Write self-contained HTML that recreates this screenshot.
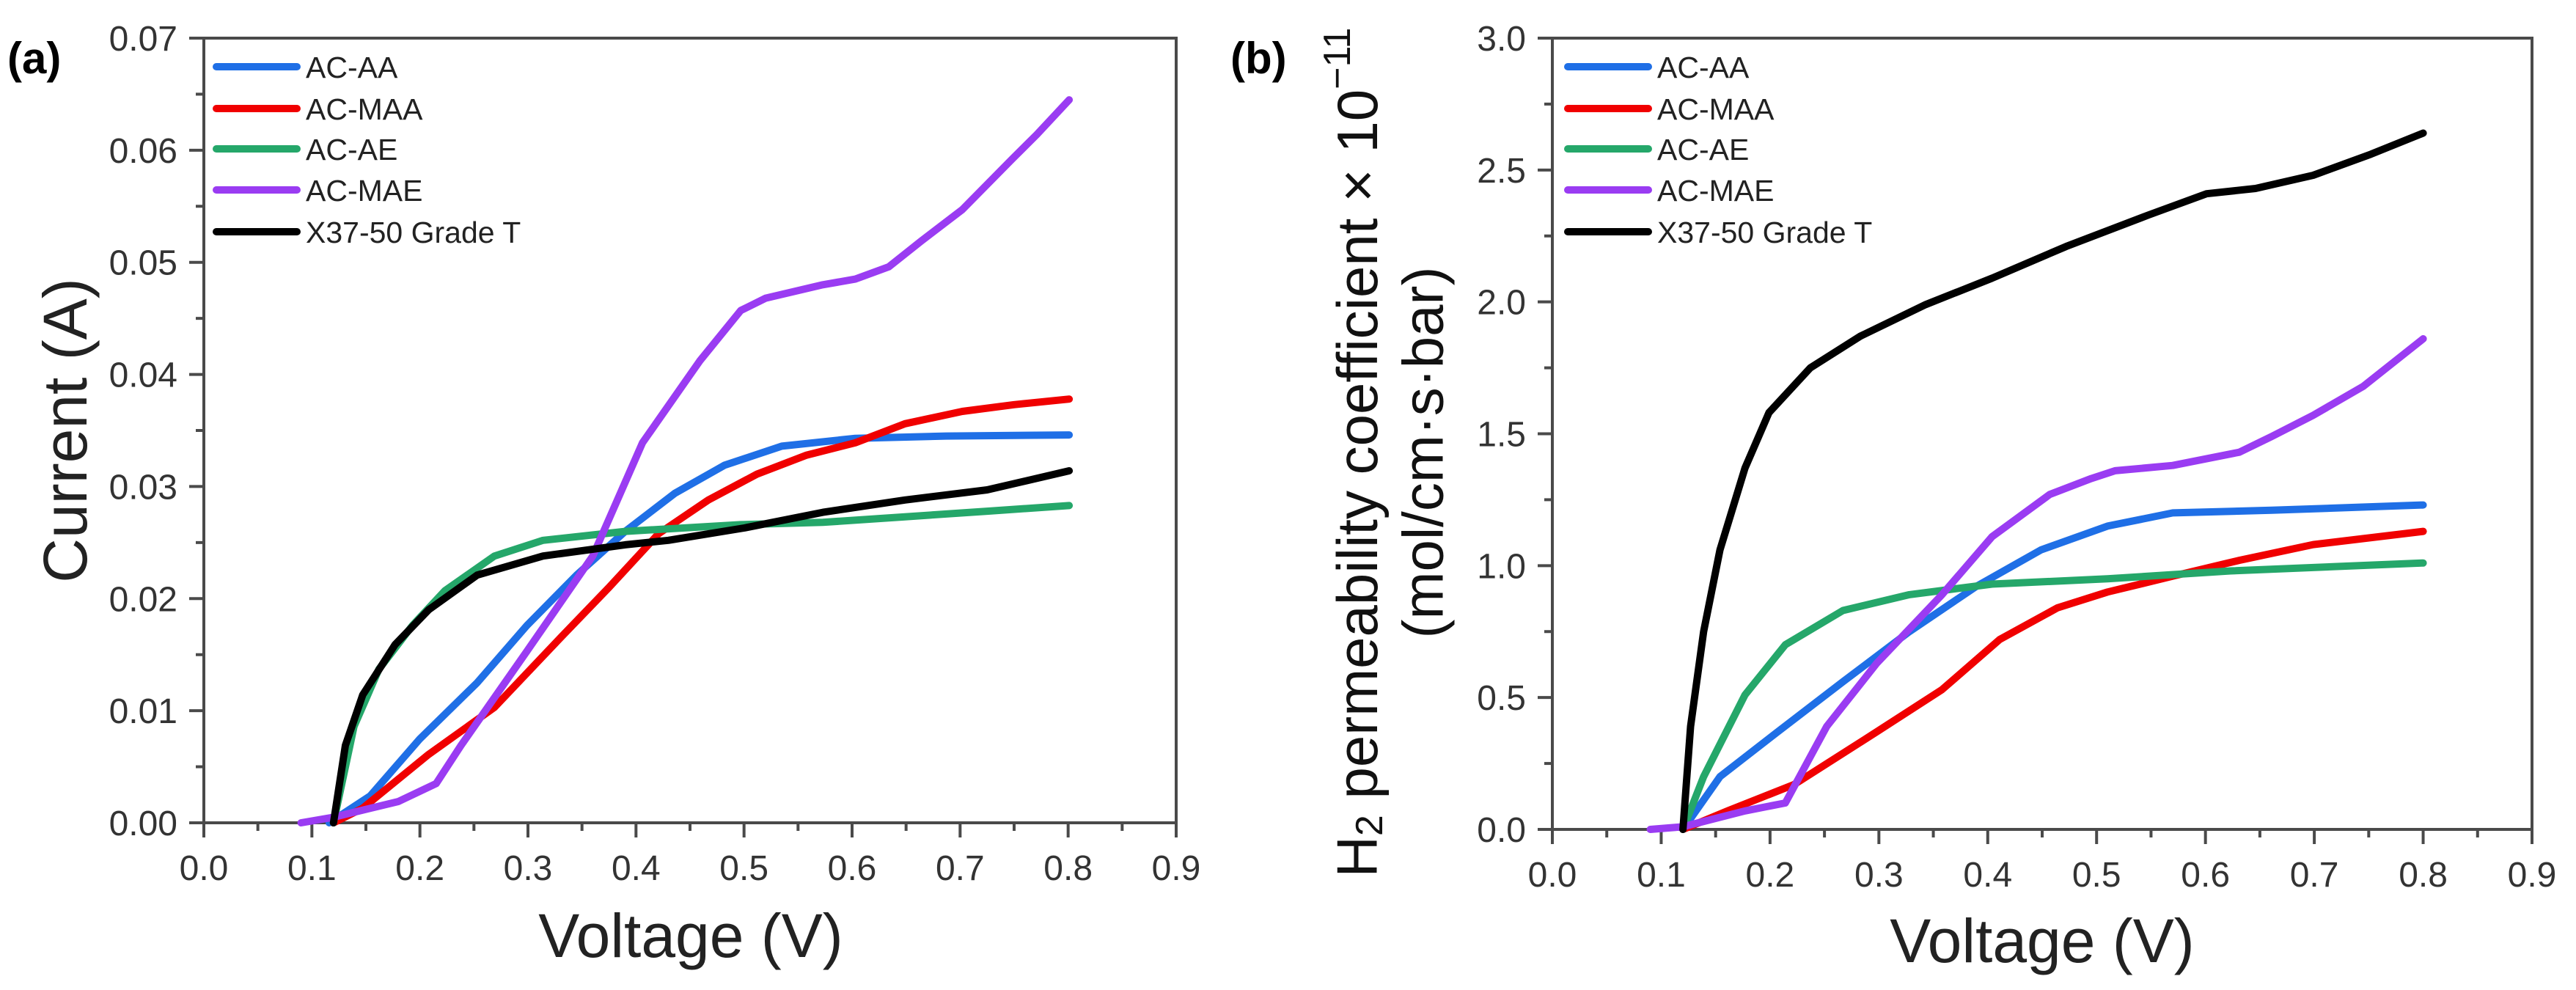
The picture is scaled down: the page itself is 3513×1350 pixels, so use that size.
<!DOCTYPE html>
<html><head><meta charset="utf-8"><style>
html,body{margin:0;padding:0;background:#fff;}
svg{display:block;font-family:"Liberation Sans",Arial,sans-serif;}
</style></head><body>
<svg id="fig" width="3513" height="1350" viewBox="0 0 3513 1350" xmlns="http://www.w3.org/2000/svg">
<rect width="3513" height="1350" fill="#fff"/>
<text x="10" y="100" font-size="60" font-weight="bold" fill="#000">(a)</text>
<text x="1678" y="100" font-size="60" font-weight="bold" fill="#000">(b)</text>
<g id="chartA"></g>
<g id="chartB"></g>
<text x="96" y="587" font-size="84" fill="#222" text-anchor="middle" transform="rotate(-90 96 587)" dominant-baseline="middle">Current (A)</text>
<text x="942" y="1283" font-size="84" fill="#222" text-anchor="middle" dominant-baseline="middle">Voltage (V)</text>
<text x="2785" y="1290" font-size="84" fill="#222" text-anchor="middle" dominant-baseline="middle">Voltage (V)</text>
<text x="1857" y="617" font-size="78" fill="#111" text-anchor="middle" transform="rotate(-90 1857 617)" dominant-baseline="middle">H<tspan font-size="52" dy="14">2</tspan><tspan dy="-14"> permeability coefficient × 10</tspan><tspan font-size="52" dy="-30">−11</tspan></text>
<text x="1947" y="617" font-size="78" fill="#111" text-anchor="middle" transform="rotate(-90 1947 617)" dominant-baseline="middle">(mol/cm·s·bar)</text>
</svg>
<script>
// ---- data ----
const seriesNames = ["AC-AA","AC-MAA","AC-AE","AC-MAE","X37-50 Grade T"];
const seriesColors = ["#1f6fe6","#f00000","#25a76a","#9a3cf2","#000000"];
const xTicks = ["0.0","0.1","0.2","0.3","0.4","0.5","0.6","0.7","0.8","0.9"];
const yTicksA = ["0.00","0.01","0.02","0.03","0.04","0.05","0.06","0.07"];
const yTicksB = ["0.0","0.5","1.0","1.5","2.0","2.5","3.0"];

const aAA_v  = [0.116,0.154,0.2,0.253,0.299,0.345,0.39,0.436,0.482,0.535,0.603,0.687,0.801];
const aAA_i  = [0,0.0024,0.0075,0.0125,0.0176,0.0221,0.026,0.0294,0.0319,0.0336,0.0343,0.0345,0.0346];
const aMAA_v = [0.12,0.147,0.208,0.269,0.33,0.375,0.421,0.467,0.512,0.558,0.603,0.649,0.702,0.75,0.801];
const aMAA_i = [0,0.0013,0.0061,0.0103,0.0165,0.021,0.0258,0.0288,0.0311,0.0328,0.0339,0.0356,0.0367,0.0373,0.0378];
const aAE_v  = [0.12,0.139,0.162,0.193,0.223,0.269,0.314,0.39,0.497,0.573,0.649,0.725,0.801];
const aAE_i  = [0,0.0086,0.0137,0.0176,0.0207,0.0238,0.0252,0.026,0.0266,0.0268,0.0273,0.0278,0.0283];
const aMAE_v = [0.09,0.12,0.18,0.215,0.238,0.299,0.36,0.406,0.459,0.497,0.52,0.573,0.603,0.634,0.664,0.702,0.748,0.771,0.801];
const aMAE_i = [0,0.0005,0.0019,0.0035,0.0069,0.0153,0.0238,0.0339,0.0412,0.0457,0.0468,0.048,0.0485,0.0496,0.0519,0.0547,0.0592,0.0614,0.0645];
const aX37_v = [0.12,0.131,0.147,0.177,0.208,0.253,0.314,0.39,0.43,0.5,0.573,0.649,0.725,0.801];
const aX37_i = [0,0.0069,0.0114,0.0159,0.019,0.0221,0.0238,0.0248,0.0252,0.0263,0.0277,0.0288,0.0297,0.0314];

const bAA_v  = [0.12,0.154,0.207,0.267,0.328,0.389,0.449,0.51,0.57,0.661,0.8];
const bAA_p  = [0,0.2,0.37,0.56,0.75,0.92,1.06,1.15,1.2,1.21,1.23];
const bMAA_v = [0.12,0.161,0.222,0.298,0.358,0.411,0.464,0.51,0.57,0.631,0.699,0.8];
const bMAA_p = [0,0.07,0.17,0.37,0.53,0.72,0.84,0.9,0.96,1.02,1.08,1.13];
const bAE_v  = [0.12,0.139,0.177,0.214,0.267,0.328,0.404,0.51,0.623,0.8];
const bAE_p  = [0,0.2,0.51,0.7,0.83,0.89,0.93,0.95,0.98,1.01];
const bMAE_v = [0.09,0.12,0.177,0.214,0.252,0.298,0.358,0.404,0.457,0.495,0.517,0.57,0.631,0.661,0.699,0.745,0.8];
const bMAE_p = [0,0.01,0.07,0.1,0.39,0.63,0.89,1.11,1.27,1.33,1.36,1.38,1.43,1.49,1.57,1.68,1.86];
const bX37_v = [0.12,0.127,0.139,0.154,0.177,0.199,0.237,0.283,0.343,0.404,0.472,0.548,0.601,0.646,0.699,0.752,0.8];
const bX37_p = [0,0.39,0.75,1.06,1.37,1.58,1.75,1.87,1.99,2.09,2.21,2.33,2.41,2.43,2.48,2.56,2.64];

const NS = "http://www.w3.org/2000/svg";
function mk(tag, parent, attrs){ const e=document.createElementNS(NS,tag); for(const k in attrs) e.setAttribute(k,attrs[k]); parent.appendChild(e); return e; }

function drawChart(g, cfg){
  const sx = v => cfg.x0 + (v - 0) / 0.9 * (cfg.x1 - cfg.x0);
  const sy = v => cfg.y0 - v / cfg.ymax * (cfg.y0 - cfg.y1);
  const ax = "#4a4a4a";
  const frame = mk("rect", g, {x:cfg.x0,y:cfg.y1,width:cfg.x1-cfg.x0,height:cfg.y0-cfg.y1,fill:"none",stroke:ax,"stroke-width":4});
  
  
  for(let k=0;k<=18;k++){
    const v=k*0.05, major=k%2===0;
    const t = mk("line", g, {x1:sx(v),x2:sx(v),y1:cfg.y0,y2:cfg.y0+(major?20:11),stroke:ax,"stroke-width":4});
    
    
  }
  xTicks.forEach((s,i)=>{
    const t = mk("text", g, {x:sx(parseFloat(s)),y:cfg.y0+78,"font-size":48,fill:"#333","text-anchor":"middle"});
    t.textContent=s;
    
    
  });
  const yt = cfg.yticks;
  const step = parseFloat(yt[1]) - parseFloat(yt[0]);
  for(let k=0;k<=(yt.length-1)*2;k++){
    const v=k*step/2, major=k%2===0;
    const t = mk("line", g, {x1:cfg.x0-(major?20:11),x2:cfg.x0,y1:sy(v),y2:sy(v),stroke:ax,"stroke-width":4});
    
    
  }
  yt.forEach(s=>{
    const t = mk("text", g, {x:cfg.x0-36,y:sy(parseFloat(s))+17,"font-size":48,fill:"#333","text-anchor":"end"});
    t.textContent=s;
    
    
  });
  cfg.series.forEach((s,i)=>{
    const pts = s[0].map((v,j)=>sx(v).toFixed(1)+","+sy(s[1][j]).toFixed(1)).join(" ");
    const p = mk("polyline", g, {points:pts,fill:"none",stroke:seriesColors[i],"stroke-width":10,"stroke-linejoin":"round","stroke-linecap":"round"});
    
    
  });
  const rows=[91,148,203,259,316];
  seriesNames.forEach((n,i)=>{
    const l = mk("line", g, {x1:cfg.lx,x2:cfg.lx+110,y1:rows[i],y2:rows[i],stroke:seriesColors[i],"stroke-width":10,"stroke-linecap":"round"});
    
    
    const t = mk("text", g, {x:cfg.lx+122,y:rows[i]+15,"font-size":41,fill:"#222"});
    t.textContent=n;
    
    
  });
}

drawChart(document.getElementById("chartA"), {x0:278,x1:1604,y0:1122,y1:52,ymax:0.07,yticks:yTicksA,lx:295,
  series:[[aAA_v,aAA_i],[aMAA_v,aMAA_i],[aAE_v,aAE_i],[aMAE_v,aMAE_i],[aX37_v,aX37_i]]});
drawChart(document.getElementById("chartB"), {x0:2117,x1:3453,y0:1131,y1:52,ymax:3.0,yticks:yTicksB,lx:2138,
  series:[[bAA_v,bAA_p],[bMAA_v,bMAA_p],[bAE_v,bAE_p],[bMAE_v,bMAE_p],[bX37_v,bX37_p]]});
</script>
</body></html>
